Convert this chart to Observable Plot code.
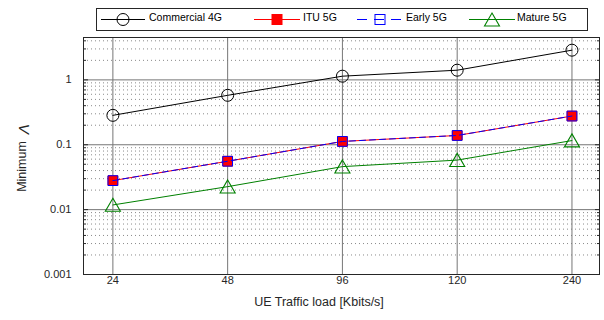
<!DOCTYPE html>
<html><head><meta charset="utf-8">
<script src="https://cdn.jsdelivr.net/npm/d3@7"></script>
<script src="https://cdn.jsdelivr.net/npm/@observablehq/plot@0.6"></script>
<style>body{margin:0;background:#fff}</style>
</head><body><div id="wrap"></div>
<script>
// ---- data ----
const loads = ["24", "48", "96", "120", "240"];
const commercial4G = [0.284, 0.578, 1.14, 1.41, 2.87];
const itu5G = [0.028, 0.0557, 0.1125, 0.139, 0.277];
const early5G = [0.028, 0.0557, 0.1125, 0.139, 0.277];
const mature5G = [0.0118, 0.0226, 0.046, 0.058, 0.116];
const seriesNames = ["Commercial 4G", "ITU 5G", "Early 5G", "Mature 5G"];
const yMajor = [0.001, 0.01, 0.1, 1];
const yTickLabels = ["0.001", "0.01", "0.1", "1"];
const xLabel = "UE Traffic load [Kbits/s]";
const yLabel = "Minimum";
const yLabelSymbol = "\u039B";

const FONT = "'Liberation Sans', Arial, Helvetica, sans-serif";
const yTop = 4.5;
const minor = [];
for (let e = -3; e <= 0; e++) for (let m = 2; m <= 9; m++) { const v = m * Math.pow(10, e); if (v < yTop) minor.push(v); }
const xIdx = loads.map((d, i) => i + 1);
const rows = vals => loads.map((d, i) => ({x: i + 1, y: vals[i]}));

const RED = "#ff0000", BLUE = "#0000ff", GREEN = "#008000";

const chart = Plot.plot({
  width: 604, height: 320,
  marginTop: 37, marginBottom: 46, marginLeft: 83, marginRight: 5,
  style: {fontFamily: FONT, fontSize: "11px", color: "#262626", background: "#fff"},
  x: {type: "linear", domain: [0.744, 5.24]},
  y: {type: "log", domain: [0.001, yTop]},
  marks: [
    Plot.gridY(minor, {stroke: "#8a8a8a", strokeOpacity: 1, strokeDasharray: "1,3"}),
    Plot.gridY(yMajor, {stroke: "#767676", strokeOpacity: 1}),
    Plot.gridX(xIdx, {stroke: "#767676", strokeOpacity: 1}),
    Plot.axisY(yMajor, {anchor: "left", tickSize: 0, tickPadding: 12, tickFormat: d => yTickLabels[yMajor.indexOf(d)], label: null, fill: "#262626"}),
    Plot.axisX(xIdx, {anchor: "bottom", tickSize: 0, tickPadding: 2, tickFormat: i => loads[i - 1], label: null, fill: "#262626"}),
    Plot.axisY(yMajor, {anchor: "left", tickSize: 5, dx: 5, tickFormat: () => "", label: null, stroke: "#262626"}),
    Plot.axisY(minor, {anchor: "left", tickSize: 3, dx: 3, tickFormat: () => "", label: null, stroke: "#262626"}),
    Plot.axisY(yMajor, {anchor: "right", tickSize: 5, dx: -5, tickFormat: () => "", label: null, stroke: "#262626"}),
    Plot.axisY(minor, {anchor: "right", tickSize: 3, dx: -3, tickFormat: () => "", label: null, stroke: "#262626"}),
    Plot.frame({stroke: "#262626"}),
    Plot.line(rows(commercial4G), {x: "x", y: "y", stroke: "#000", strokeWidth: 1}),
    Plot.dot(rows(commercial4G), {x: "x", y: "y", r: 6, stroke: "#000", fill: "none", strokeWidth: 1}),
    Plot.line(rows(itu5G), {x: "x", y: "y", stroke: RED, strokeWidth: 1}),
    Plot.dot(rows(itu5G), {x: "x", y: "y", symbol: "square", r: 5.5, fill: RED, stroke: RED, strokeWidth: 1}),
    Plot.line(rows(early5G), {x: "x", y: "y", stroke: BLUE, strokeWidth: 1, strokeDasharray: "6,4"}),
    Plot.dot(rows(early5G), {x: "x", y: "y", symbol: "square", r: 5.5, fill: "none", stroke: BLUE, strokeWidth: 1}),
    Plot.line(rows(mature5G), {x: "x", y: "y", stroke: GREEN, strokeWidth: 1}),
    Plot.dot(rows(mature5G), {x: "x", y: "y", symbol: "triangle", r: 5.6, dy: 2, fill: "none", stroke: GREEN, strokeWidth: 1.1})
  ]
});
document.getElementById("wrap").appendChild(chart);

const svg = d3.select(chart);
// x label
svg.append("text").attr("x", 319).attr("y", 306).attr("text-anchor", "middle")
  .attr("font-family", FONT).attr("font-size", 12.5).attr("fill", "#262626").text(xLabel);
// y label
const yl = svg.append("text").attr("transform", "translate(26,158) rotate(-90)").attr("text-anchor", "middle")
  .attr("font-family", FONT).attr("font-size", 12.5).attr("fill", "#262626");
yl.append("tspan").text(yLabel + "  ");
yl.append("tspan").attr("font-style", "italic").attr("font-size", 15).attr("dy", 3).text(yLabelSymbol);

// legend
const lg = svg.append("g").attr("font-family", FONT).attr("font-size", 10.5).attr("fill", "#000").attr("text-anchor", "start");
lg.append("rect").attr("x", 96.5).attr("y", 8.5).attr("width", 491).attr("height", 22).attr("fill", "#fff").attr("stroke", "#262626");
const ly = 19.5;
const items = [
  {x0: 101, x1: 145, mx: 123, tx: 149, color: "#000", dash: null, sym: "circle"},
  {x0: 254, x1: 300, mx: 277, tx: 303, color: RED, dash: null, sym: "fsquare"},
  {x0: 357, x1: 403, mx: 380, tx: 406, color: BLUE, dash: "10,7", sym: "square"},
  {x0: 469, x1: 515, mx: 492, tx: 517, color: GREEN, dash: null, sym: "triangle"}
];
items.forEach((it, i) => {
  const l = lg.append("line").attr("x1", it.x0).attr("x2", it.x1).attr("y1", ly).attr("y2", ly).attr("stroke", it.color);
  if (it.dash) l.attr("stroke-dasharray", it.dash);
  if (it.sym === "circle") lg.append("circle").attr("cx", it.mx).attr("cy", ly).attr("r", 6).attr("fill", "none").attr("stroke", it.color);
  if (it.sym === "fsquare") lg.append("rect").attr("x", it.mx - 5).attr("y", ly - 5).attr("width", 10).attr("height", 10).attr("fill", it.color).attr("stroke", it.color);
  if (it.sym === "square") lg.append("rect").attr("x", it.mx - 5).attr("y", ly - 5).attr("width", 10).attr("height", 10).attr("fill", "none").attr("stroke", it.color);
  if (it.sym === "triangle") lg.append("path").attr("d", `M${it.mx},${ly - 6.5}L${it.mx + 7.5},${ly + 6.5}L${it.mx - 7.5},${ly + 6.5}Z`).attr("fill", "none").attr("stroke", it.color).attr("stroke-width", 1.1);
  lg.append("text").attr("x", it.tx).attr("y", ly - 1).attr("text-anchor", "start").attr("dominant-baseline", "middle").text(seriesNames[i]);
});
</script>
</body></html>
